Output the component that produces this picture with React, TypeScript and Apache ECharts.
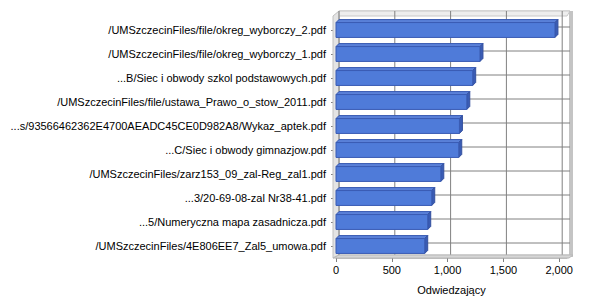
import React, { useEffect, useRef } from "react";
import * as echarts from "echarts";

const CATEGORIES = [
  "/UMSzczecinFiles/file/okreg_wyborczy_2.pdf",
  "/UMSzczecinFiles/file/okreg_wyborczy_1.pdf",
  "...B/Siec i obwody szkol podstawowych.pdf",
  "/UMSzczecinFiles/file/ustawa_Prawo_o_stow_2011.pdf",
  "...s/93566462362E4700AEADC45CE0D982A8/Wykaz_aptek.pdf",
  "...C/Siec i obwody gimnazjow.pdf",
  "/UMSzczecinFiles/zarz153_09_zal-Reg_zal1.pdf",
  "...3/20-69-08-zal Nr38-41.pdf",
  "...5/Numeryczna mapa zasadnicza.pdf",
  "/UMSzczecinFiles/4E806EE7_Zal5_umowa.pdf",
];
const VISITS = [1962, 1290, 1225, 1172, 1106, 1100, 939, 858, 822, 795];
const X_TICKS = [0, 500, 1000, 1500, 2000];
const X_MAX = 2070;
const AXIS_NAME = "Odwiedzający";

const D = 3; // 3D depth offset
const FONT = "Liberation Sans";

export default function App() {
  const ref = useRef<HTMLDivElement>(null);
  useEffect(() => {
    if (!ref.current) return;
    document.body.style.margin = "0";
    const chart = echarts.init(ref.current, null, { renderer: "svg" });
    const barData = VISITS.map((v, i) => [v, i]);

    const option: any = {
      animation: false,
      backgroundColor: "#ffffff",
      grid: { left: 336, top: 18, width: 231, height: 240, containLabel: false },
      xAxis: {
        type: "value",
        min: 0,
        max: X_MAX,
        interval: 500,
        name: AXIS_NAME,
        nameLocation: "middle",
        nameGap: 26,
        nameTextStyle: { fontFamily: FONT, fontSize: 11, color: "#000" },
        axisLine: { show: true, lineStyle: { color: "#c0c0c0", width: 1 } },
        axisTick: {
          show: true,
          length: 4,
          lineStyle: { color: "#808080" },
          customValues: X_TICKS,
        },
        axisLabel: {
          fontFamily: FONT,
          fontSize: 11,
          color: "#000",
          margin: 6,
          customValues: X_TICKS,
          formatter: (v: number) => v.toLocaleString("en-US"),
        },
        splitLine: { show: false },
      },
      yAxis: {
        type: "category",
        inverse: true,
        data: CATEGORIES,
        axisLine: { show: true, lineStyle: { color: "#c0c0c0" } },
        axisTick: { show: true, length: 5, alignWithLabel: true, lineStyle: { color: "#808080" } },
        axisLabel: { fontFamily: FONT, fontSize: 11, color: "#000", margin: 10, interval: 0 },
        splitLine: { show: false },
      },
      series: [
        {
          type: "custom",
          name: "frame",
          z: 1,
          silent: true,
          clip: false,
          data: [[0, 0]],
          encode: { x: 0, y: 1 },
          renderItem: (params: any, api: any) => {
            const cs = params.coordSys;
            const L = cs.x, T = cs.y, R = cs.x + cs.width, B = cs.y + cs.height;
            const children: any[] = [];
            children.push({
              type: "rect",
              shape: { x: L + D, y: T - D - 4, width: R - L, height: B - T + 4 },
              style: { fill: "#ffffff", stroke: "#c8c8c8", lineWidth: 1 },
            });
            children.push({
              type: "polygon",
              shape: { points: [[L, T - 2], [L + D, T - D - 4], [R + D, T - D - 4], [R, T - 2]] },
              style: { fill: "#eeeeee", stroke: "#c8c8c8", lineWidth: 1 },
            });
            children.push({
              type: "polygon",
              shape: { points: [[L - 3, T - 2], [L + D, T - D - 4], [L + D, B - D], [L - 3, B]] },
              style: { fill: "#e4e4e4", stroke: "#c0c0c0", lineWidth: 1 },
            });
            children.push({
              type: "rect",
              shape: { x: R + D - 1, y: T - D - 4, width: 4, height: B - T + 6 },
              style: { fill: "#c4c4c4" },
            });
            X_TICKS.forEach((t) => {
              const x = api.coord([t, 0])[0] + D;
              children.push({
                type: "line",
                shape: { x1: x, y1: T - D - 4, x2: x, y2: B - D },
                style: { stroke: "#808080", lineWidth: 1 },
              });
            });
            CATEGORIES.forEach((_, i) => {
              const y = api.coord([0, i])[1] - D;
              children.push({
                type: "line",
                shape: { x1: L + D, y1: y, x2: R + D, y2: y },
                style: { stroke: "#808080", lineWidth: 1 },
              });
            });
            children.push({
              type: "polygon",
              shape: { points: [[L - 3, B], [L + D, B - D], [R + D + 3, B - D], [R + 2, B]] },
              style: { fill: "#d6d6d6", stroke: "#b8b8b8", lineWidth: 1 },
            });
            return { type: "group", children };
          },
        },
        {
          type: "custom",
          name: "Odwiedzający",
          z: 2,
          clip: false,
          data: barData,
          encode: { x: 0, y: 1 },
          renderItem: (params: any, api: any) => {
            const val = api.value(0);
            const idx = api.value(1);
            const p0 = api.coord([0, idx]);
            const p1 = api.coord([val, idx]);
            const h = api.size([0, 1])[1] * 0.62;
            const x = p0[0];
            const y = p0[1] - h / 2;
            const w = p1[0] - p0[0];
            return {
              type: "group",
              children: [
                {
                  type: "polygon",
                  shape: { points: [[x, y], [x + D, y - D], [x + w + D, y - D], [x + w, y]] },
                  style: { fill: "#5a80d8", stroke: "#3a5cb4", lineWidth: 1 },
                },
                {
                  type: "polygon",
                  shape: { points: [[x + w, y], [x + w + D, y - D], [x + w + D, y + h - D], [x + w, y + h]] },
                  style: { fill: "#3a5cb4", stroke: "#34509e", lineWidth: 1 },
                },
                {
                  type: "rect",
                  shape: { x, y, width: w, height: h },
                  style: { fill: "#4f7bd9", stroke: "#3a5cb4", lineWidth: 1 },
                },
              ],
            };
          },
        },
      ],
    };
    chart.setOption(option);
    return () => chart.dispose();
  }, []);
  return <div ref={ref} style={{ width: 600, height: 300 }} />;
}
